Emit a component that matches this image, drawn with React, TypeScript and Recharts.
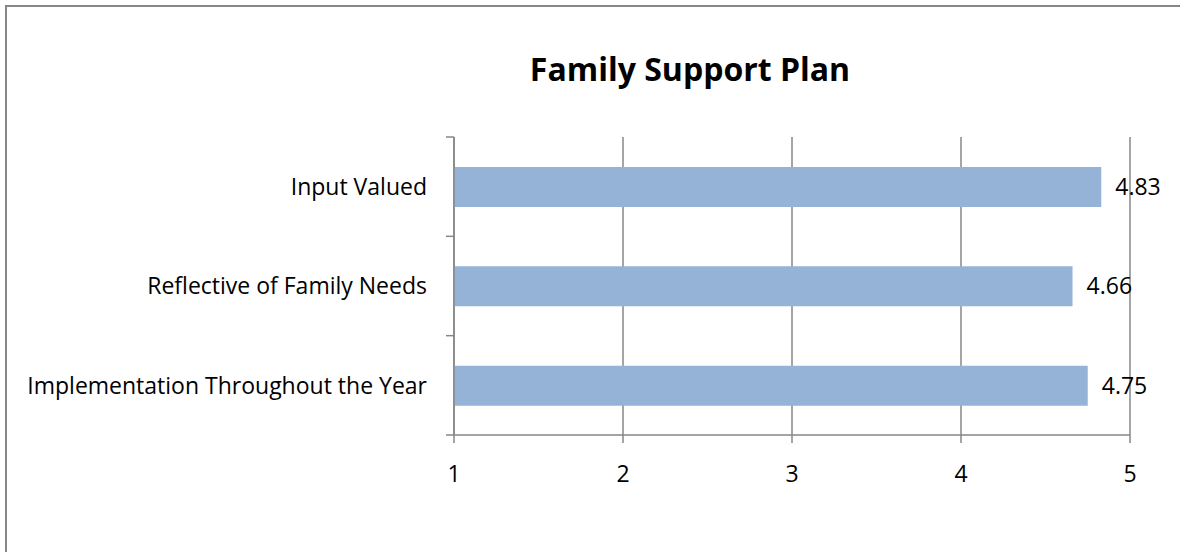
import React from 'react';
import { BarChart, Bar, XAxis, YAxis, CartesianGrid, LabelList } from 'recharts';

const categories = ['Input Valued', 'Reflective of Family Needs', 'Implementation Throughout the Year'];
const values = [4.83, 4.66, 4.75];
const xTicks = [1, 2, 3, 4, 5];
const title = 'Family Support Plan';

const data = categories.map((name, i) => ({ name, value: values[i] }));

const AXIS = '#878787';
const FONT = '"Open Sans", sans-serif';
const LABEL_SIZE = 23;

const CatTick = (props: any) => {
  const { x, y, payload, index, visibleTicksCount } = props;
  const half = payload && typeof payload.offset === 'number' ? payload.offset : 0;
  const isLast = index === (visibleTicksCount ?? categories.length) - 1;
  return (
    <g>
      <line x1={x + 19} x2={x + 27} y1={y - half} y2={y - half} stroke={AXIS} strokeWidth={1.5} />
      {isLast && (
        <line x1={x + 19} x2={x + 27} y1={y + half} y2={y + half} stroke={AXIS} strokeWidth={1.5} />
      )}
      <text x={x} y={y} dy="0.36em" textAnchor="end" fill="#000" fontSize={LABEL_SIZE} fontFamily={FONT}>
        {payload.value}
      </text>
    </g>
  );
};

export default function App() {
  return (
    <div style={{ position: 'absolute', left: 0, top: 0, width: 1180, height: 552, overflow: 'hidden', background: '#fff' }}>
      <div
        style={{
          position: 'absolute',
          left: 5,
          top: 5,
          width: 1200,
          height: 600,
          borderTop: `2px solid ${AXIS}`,
          borderLeft: `2px solid ${AXIS}`,
          boxSizing: 'border-box',
        }}
      />
      <svg width={1180} height={120} style={{ position: 'absolute', left: 0, top: 0 }}>
        <text x={690} y={81} textAnchor="middle" fontFamily={FONT} fontWeight="bold" fontSize={32} fill="#000">
          {title}
        </text>
      </svg>
      <div style={{ position: 'absolute', left: 0, top: 0 }}>
        <BarChart
          width={1180}
          height={552}
          data={data}
          layout="vertical"
          margin={{ top: 137, right: 50, left: 14, bottom: 57 }}
        >
          <CartesianGrid horizontal={false} stroke={AXIS} strokeWidth={1.5} />
          <XAxis
            type="number"
            domain={[1, 5]}
            ticks={xTicks}
            allowDataOverflow
            height={60}
            tickSize={8}
            tickMargin={23}
            stroke={AXIS}
            strokeWidth={1.5}
            tick={{ fill: '#000', fontSize: LABEL_SIZE, fontFamily: FONT }}
          />
          <YAxis
            type="category"
            dataKey="name"
            width={440}
            tickLine={false}
            tickSize={0}
            tickMargin={27}
            stroke={AXIS}
            strokeWidth={1.5}
            tick={<CatTick />}
            interval={0}
          />
          <Bar dataKey="value" fill="#95B3D7" barSize={40} isAnimationActive={false}>
            <LabelList
              dataKey="value"
              position="right"
              offset={14}
              fill="#000"
              fontSize={LABEL_SIZE}
              fontFamily={FONT}
            />
          </Bar>
        </BarChart>
      </div>
    </div>
  );
}
